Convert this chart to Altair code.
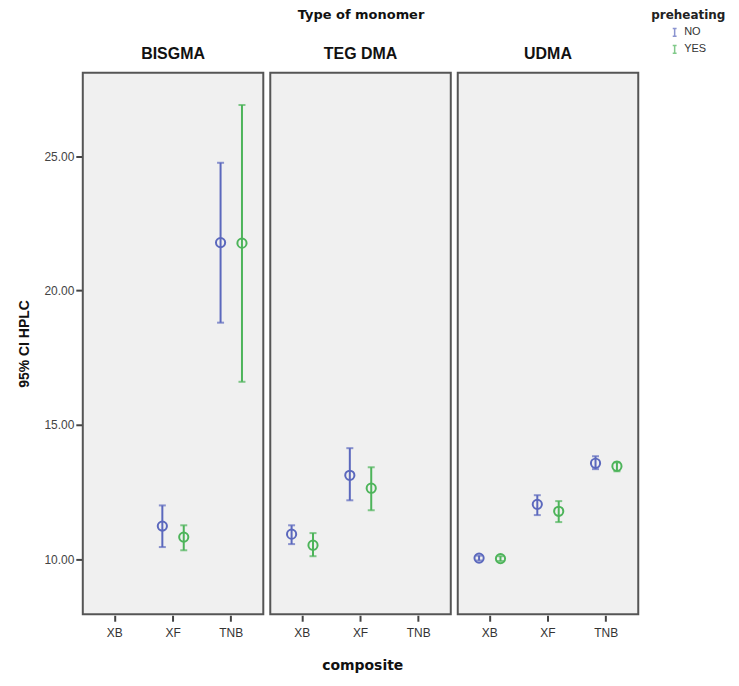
import altair as alt
import pandas as pd

monomer = ["BISGMA"] * 4 + ["TEG DMA"] * 4 + ["UDMA"] * 6
composite = ["XF", "XF", "TNB", "TNB",
             "XB", "XB", "XF", "XF",
             "XB", "XB", "XF", "XF", "TNB", "TNB"]
preheating = ["NO", "YES"] * 7
mean_hplc = [11.23, 10.82, 21.78, 21.76,
             10.93, 10.52, 13.12, 12.64,
             10.04, 10.02, 12.04, 11.78, 13.57, 13.46]
lower_ci = [10.45, 10.33, 18.80, 16.60,
            10.56, 10.11, 12.19, 11.82,
            9.95, 9.93, 11.64, 11.38, 13.35, 13.27]
upper_ci = [12.00, 11.26, 24.75, 26.90,
            11.26, 10.97, 14.13, 13.42,
            10.13, 10.11, 12.38, 12.16, 13.83, 13.60]

composite_order = ["XB", "XF", "TNB"]
monomer_order = ["BISGMA", "TEG DMA", "UDMA"]
pre_order = ["NO", "YES"]
pre_colors = ["#5b68bd", "#4db45a"]
y_ticks = [10, 15, 20, 25]

df = pd.DataFrame({
    "monomer": monomer,
    "composite": composite,
    "preheating": preheating,
    "mean": mean_hplc,
    "lower": lower_ci,
    "upper": upper_ci,
})

yscale = alt.Scale(domain=[7.95, 28.1], nice=False, zero=False)
color = alt.Color(
    "preheating:N",
    scale=alt.Scale(domain=pre_order, range=pre_colors),
    legend=alt.Legend(
        title="preheating",
        orient="none",
        legendX=570,
        legendY=-63,
        symbolType="M0,-1L0,1M-0.5,-1L0.5,-1M-0.5,1L0.5,1",
        symbolSize=60,
        symbolStrokeWidth=1.5,
        symbolOffset=18,
        titleFont="DejaVu Sans",
        titleFontSize=12,
        titleFontWeight="bold",
        titleColor="#222",
        labelFont="Liberation Sans",
        labelFontSize=11,
        labelColor="#333",
        rowPadding=2,
    ),
)

base = alt.Chart(df).encode(
    x=alt.X(
        "composite:N",
        scale=alt.Scale(domain=composite_order, paddingInner=0, paddingOuter=0.05),
        axis=alt.Axis(title=None, labelAngle=0, domain=False, ticks=True,
                      tickSize=6, tickWidth=2, tickColor="#444",
                      labelFont="Liberation Sans", labelFontSize=12, labelColor="#333",
                      labelPadding=6),
    ),
    xOffset=alt.XOffset("preheating:N",
                        scale=alt.Scale(domain=pre_order, paddingInner=0, paddingOuter=0.36)),
    color=color,
)

rules = base.mark_rule(strokeWidth=2).encode(
    y=alt.Y("lower:Q", scale=yscale,
            axis=alt.Axis(title="95% CI HPLC", values=y_ticks, format=".2f", grid=False,
                          domain=False, tickSize=6, tickWidth=2, tickColor="#444",
                          labelFont="Liberation Sans", labelFontSize=12, labelColor="#444",
                          titleFont="Liberation Sans", titleFontSize=14, titleFontWeight="bold",
                          titleColor="#111", titlePadding=12)),
    y2="upper:Q",
)
cap_top = base.mark_tick(orient="horizontal", size=7, thickness=2).encode(
    y=alt.Y("upper:Q", scale=yscale)
)
cap_bot = base.mark_tick(orient="horizontal", size=7, thickness=2).encode(
    y=alt.Y("lower:Q", scale=yscale)
)
points = base.mark_point(shape="circle", size=85, strokeWidth=2, filled=False,
                         opacity=1).encode(
    y=alt.Y("mean:Q", scale=yscale)
)

layer = alt.layer(rules, cap_top, cap_bot, points).properties(width=181, height=543)

chart = layer.facet(
    column=alt.Column(
        "monomer:N",
        sort=monomer_order,
        header=alt.Header(
            title="Type of monomer",
            titleFont="DejaVu Sans",
            titleFontSize=13,
            titleFontWeight="bold",
            titleColor="#111",
            titlePadding=14,
            labelFont="Liberation Sans",
            labelFontSize=16,
            labelFontWeight="bold",
            labelColor="#111",
            labelPadding=10,
        ),
    ),
    spacing=5,
).properties(
    title=alt.TitleParams(
        "composite", orient="bottom", anchor="start", frame="group",
        font="DejaVu Sans", fontSize=14, fontWeight="bold", color="#111",
        offset=21, dx=240,
    ),
    background="white",
    padding={"left": 9, "top": 0, "right": 5, "bottom": 5},
).configure_view(
    fill="#f0f0f0", stroke="#555", strokeWidth=2
)

chart.save("out.html", embed_options={"renderer": "svg", "actions": False})
